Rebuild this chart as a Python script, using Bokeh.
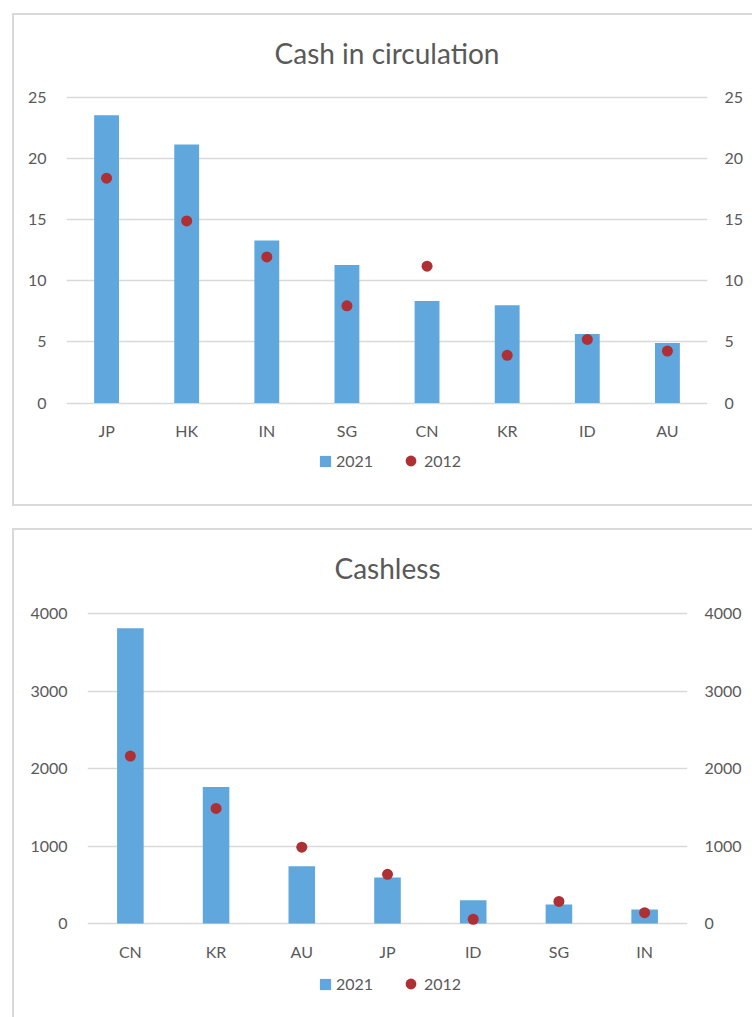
from bokeh.plotting import figure
from bokeh.models import (ColumnDataSource, Range1d, LinearAxis, Legend, LegendItem,
                          FixedTicker, Label)
from bokeh.embed import file_html
from bokeh.resources import INLINE

# ---- data ----
cash_countries = ["JP", "HK", "IN", "SG", "CN", "KR", "ID", "AU"]
cash_2021 = [23.55, 21.15, 13.3, 11.3, 8.35, 8.0, 5.65, 4.9]
cash_2012 = [18.4, 14.9, 11.95, 7.95, 11.2, 3.9, 5.2, 4.25]
cash_ticks = [0, 5, 10, 15, 20, 25]

cashless_countries = ["CN", "KR", "AU", "JP", "ID", "SG", "IN"]
cashless_2021 = [3810, 1760, 740, 595, 300, 245, 180]
cashless_2012 = [2160, 1485, 985, 635, 55, 285, 140]
cashless_ticks = [0, 1000, 2000, 3000, 4000]

FONT = "Lato"
TXT = "#595959"
GRID = "#d9d9d9"
BAR = "#5fa7dc"
DOT = "#ae2f34"


def legend_box(item, loc, glyph, standoff):
    return Legend(items=[item], orientation="horizontal", location=loc,
                  border_line_color=None, background_fill_alpha=0,
                  margin=0, padding=0, spacing=0, label_standoff=standoff,
                  glyph_width=glyph, glyph_height=glyph,
                  label_text_font=FONT, label_text_font_size="16px",
                  label_text_color=TXT)


def make_chart(title, cats, v2021, v2012, ticks, ymax,
               fw, fh, top_px, zero_px, title_px, mbl, mbr, mbb,
               leg_bar_xy, leg_dot_xy, styles):
    src = ColumnDataSource(dict(cat=cats, v2021=v2021, v2012=v2012))
    # frame spans the whole chart box; pixel layout -> data range
    unit = (zero_px - top_px) / ymax
    y_hi = ymax + top_px / unit
    y_lo = -(fh - zero_px) / unit
    p = figure(x_range=cats, y_range=Range1d(y_lo, y_hi),
               frame_width=fw, frame_height=fh,
               output_backend="svg", toolbar_location=None, title=None,
               min_border_left=mbl, min_border_right=mbr,
               min_border_top=0, min_border_bottom=mbb)
    p.styles = styles
    p.outline_line_color = None

    p.add_layout(Label(x=len(cats) / 2, y=ymax + (top_px - title_px) / unit,
                       text=title, text_align="center", text_baseline="middle",
                       text_font=FONT, text_font_size="28px", text_color=TXT))

    bars = p.vbar(x="cat", top="v2021", width=0.31, source=src,
                  fill_color=BAR, line_color=None)
    dots = p.scatter(x="cat", y="v2012", size=11, source=src,
                     fill_color=DOT, line_color=None)

    p.xgrid.grid_line_color = None
    p.ygrid.ticker = FixedTicker(ticks=ticks)
    p.ygrid.grid_line_color = GRID
    p.ygrid.grid_line_width = 1.5

    p.yaxis.ticker = FixedTicker(ticks=ticks)
    right = LinearAxis(ticker=FixedTicker(ticks=ticks))
    p.add_layout(right, "right")

    for ax in p.yaxis + p.xaxis:
        ax.axis_line_color = None
        ax.major_tick_line_color = None
        ax.minor_tick_line_color = None
        ax.major_label_text_font = FONT
        ax.major_label_text_font_size = "16px"
        ax.major_label_text_color = TXT
    p.xaxis.fixed_location = 0
    p.xaxis.major_label_standoff = 12
    p.yaxis[0].major_label_standoff = 14
    right.major_label_standoff = 11

    # bar swatch: area legend glyph is 80% of the box -> 14px box ~ 11px square
    p.add_layout(legend_box(LegendItem(label="2021", renderers=[bars]),
                            leg_bar_xy, 14, 4))
    # marker legend glyph is 40% of the box -> 27px box ~ 11px dot
    p.add_layout(legend_box(LegendItem(label="2012", renderers=[dots]),
                            leg_dot_xy, 27, 0))
    return p


BORDER = "2px solid #d9d9d9"
p1 = make_chart("Cash in circulation", cash_countries, cash_2021, cash_2012,
                cash_ticks, 25, 641, 475, 82, 387.5, 37, 52, 45, 14,
                (252, 20), (331, 16),
                {"border-left": BORDER, "border-top": BORDER, "border-bottom": BORDER,
                 "margin-left": "12px", "margin-top": "13px"})
p2 = make_chart("Cashless", cashless_countries, cashless_2021, cashless_2012,
                cashless_ticks, 4000, 600, 480, 83, 393, 37, 73, 65, 7,
                (231, 17), (310, 13),
                {"border-left": BORDER, "border-top": BORDER,
                 "margin-left": "12px", "margin-top": "22px"})

open("out.html", "w").write(file_html([p1, p2], INLINE))
